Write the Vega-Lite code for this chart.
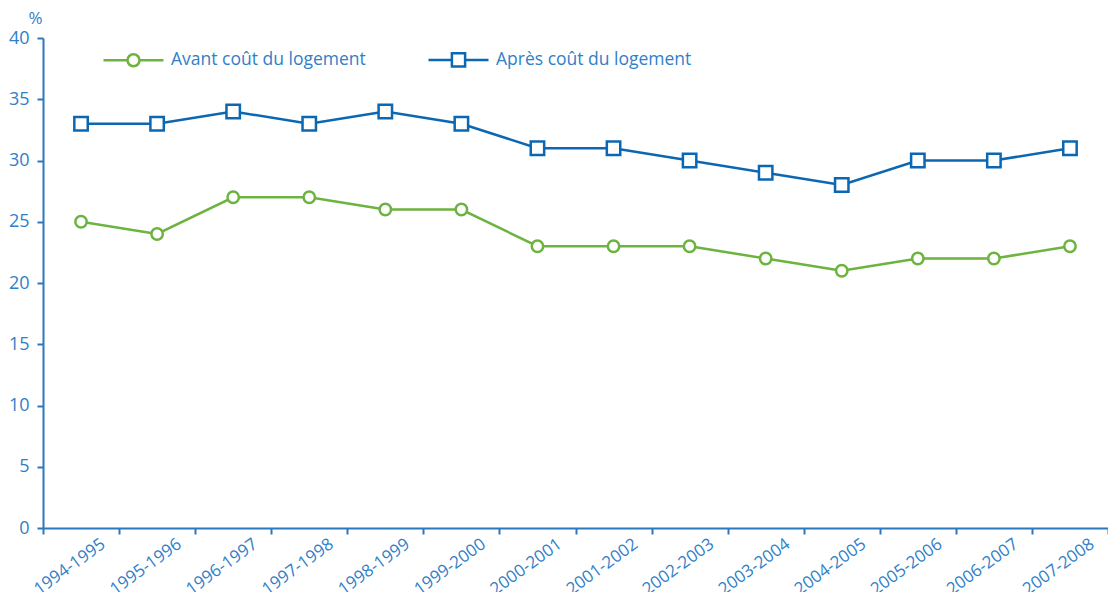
{
  "$schema": "https://vega.github.io/schema/vega-lite/v6.json",
  "autosize": "none",
  "width": 1065,
  "height": 490,
  "padding": {"left": 43, "top": 38, "right": 0, "bottom": 64},
  "background": "white",
  "config": {
    "view": {"stroke": null},
    "font": "Open Sans"
  },
  "data": {
    "values": [
      {"annee": "1994-1995", "serie": "Avant coût du logement", "valeur": 25},
      {"annee": "1995-1996", "serie": "Avant coût du logement", "valeur": 24},
      {"annee": "1996-1997", "serie": "Avant coût du logement", "valeur": 27},
      {"annee": "1997-1998", "serie": "Avant coût du logement", "valeur": 27},
      {"annee": "1998-1999", "serie": "Avant coût du logement", "valeur": 26},
      {"annee": "1999-2000", "serie": "Avant coût du logement", "valeur": 26},
      {"annee": "2000-2001", "serie": "Avant coût du logement", "valeur": 23},
      {"annee": "2001-2002", "serie": "Avant coût du logement", "valeur": 23},
      {"annee": "2002-2003", "serie": "Avant coût du logement", "valeur": 23},
      {"annee": "2003-2004", "serie": "Avant coût du logement", "valeur": 22},
      {"annee": "2004-2005", "serie": "Avant coût du logement", "valeur": 21},
      {"annee": "2005-2006", "serie": "Avant coût du logement", "valeur": 22},
      {"annee": "2006-2007", "serie": "Avant coût du logement", "valeur": 22},
      {"annee": "2007-2008", "serie": "Avant coût du logement", "valeur": 23},
      {"annee": "1994-1995", "serie": "Après coût du logement", "valeur": 33},
      {"annee": "1995-1996", "serie": "Après coût du logement", "valeur": 33},
      {"annee": "1996-1997", "serie": "Après coût du logement", "valeur": 34},
      {"annee": "1997-1998", "serie": "Après coût du logement", "valeur": 33},
      {"annee": "1998-1999", "serie": "Après coût du logement", "valeur": 34},
      {"annee": "1999-2000", "serie": "Après coût du logement", "valeur": 33},
      {"annee": "2000-2001", "serie": "Après coût du logement", "valeur": 31},
      {"annee": "2001-2002", "serie": "Après coût du logement", "valeur": 31},
      {"annee": "2002-2003", "serie": "Après coût du logement", "valeur": 30},
      {"annee": "2003-2004", "serie": "Après coût du logement", "valeur": 29},
      {"annee": "2004-2005", "serie": "Après coût du logement", "valeur": 28},
      {"annee": "2005-2006", "serie": "Après coût du logement", "valeur": 30},
      {"annee": "2006-2007", "serie": "Après coût du logement", "valeur": 30},
      {"annee": "2007-2008", "serie": "Après coût du logement", "valeur": 31}
    ]
  },
  "encoding": {
    "x": {
      "field": "annee",
      "type": "ordinal",
      "sort": null,
      "scale": {"type": "band", "paddingInner": 0, "paddingOuter": 0},
      "axis": {
        "title": null,
        "tickBand": "extent",
        "domainColor": "#2a78bd",
        "domainWidth": 2,
        "tickColor": "#2a78bd",
        "tickWidth": 2,
        "tickSize": 6,
        "labelAngle": -36,
        "labelAlign": "right",
        "labelBaseline": "middle",
        "labelOffset": 22,
        "labelPadding": 8,
        "labelFontSize": 17,
        "labelColor": "#2f80c8",
        "labelFont": "Open Sans",
        "labelOverlap": false,
        "grid": false
      }
    },
    "y": {
      "field": "valeur",
      "type": "quantitative",
      "scale": {"domain": [0, 40], "nice": false, "zero": true},
      "axis": {
        "values": [0, 5, 10, 15, 20, 25, 30, 35, 40],
        "title": "%",
        "titleAngle": 0,
        "titleX": -8,
        "titleY": -20,
        "titleAlign": "center",
        "titleBaseline": "middle",
        "titleFontSize": 17,
        "titleFontWeight": "normal",
        "titleColor": "#2f80c8",
        "titleFont": "Open Sans",
        "domainColor": "#2a78bd",
        "domainWidth": 2,
        "tickColor": "#2a78bd",
        "tickWidth": 2,
        "tickSize": 6,
        "labelPadding": 8,
        "labelFontSize": 18,
        "labelColor": "#2f80c8",
        "labelFont": "Open Sans",
        "grid": false
      }
    },
    "color": {
      "field": "serie",
      "type": "nominal",
      "scale": {
        "domain": ["Avant coût du logement", "Après coût du logement"],
        "range": ["#6cb33f", "#0b67b2"]
      },
      "legend": {
        "title": null,
        "orient": "none",
        "legendX": 59,
        "legendY": -10,
        "direction": "horizontal",
        "symbolSize": 3600,
        "symbolType": "M-1,0H-0.2M0.2,0H1M0.2,0A0.2,0.2,0,1,1,-0.2,0A0.2,0.2,0,1,1,0.2,0Z",
        "symbolStrokeWidth": 2.5,
        "symbolFillColor": "white",
        "labelFontSize": 17.5,
        "labelColor": "#2f80c8",
        "labelFont": "Open Sans",
        "labelOffset": 6,
        "columnPadding": 57,
        "labelLimit": 400,
        "encode": {
          "symbols": {
            "update": {
              "shape": {"signal": "datum.value === 'Avant coût du logement' ? 'M-1,0H-0.2M0.2,0H1M0.2,0A0.2,0.2,0,1,1,-0.2,0A0.2,0.2,0,1,1,0.2,0Z' : 'M-1,0H-0.22M0.22,0H1M-0.22,-0.22H0.22V0.22H-0.22Z'"},
              "size": {"value": 3600},
              "fill": {"value": "white"},
              "strokeWidth": {"value": 2.5}
            }
          }
        }
      }
    }
  },
  "layer": [
    {
      "mark": {"type": "line", "strokeWidth": 2.5}
    },
    {
      "transform": [{"filter": "datum.serie === 'Avant coût du logement'"}],
      "mark": {"type": "point", "shape": "circle", "size": 130, "filled": false, "fill": "white", "fillOpacity": 1, "opacity": 1, "strokeWidth": 2.5}
    },
    {
      "transform": [{"filter": "datum.serie === 'Après coût du logement'"}],
      "mark": {"type": "point", "shape": "square", "size": 180, "filled": false, "fill": "white", "fillOpacity": 1, "opacity": 1, "strokeWidth": 2.5}
    }
  ]
}
